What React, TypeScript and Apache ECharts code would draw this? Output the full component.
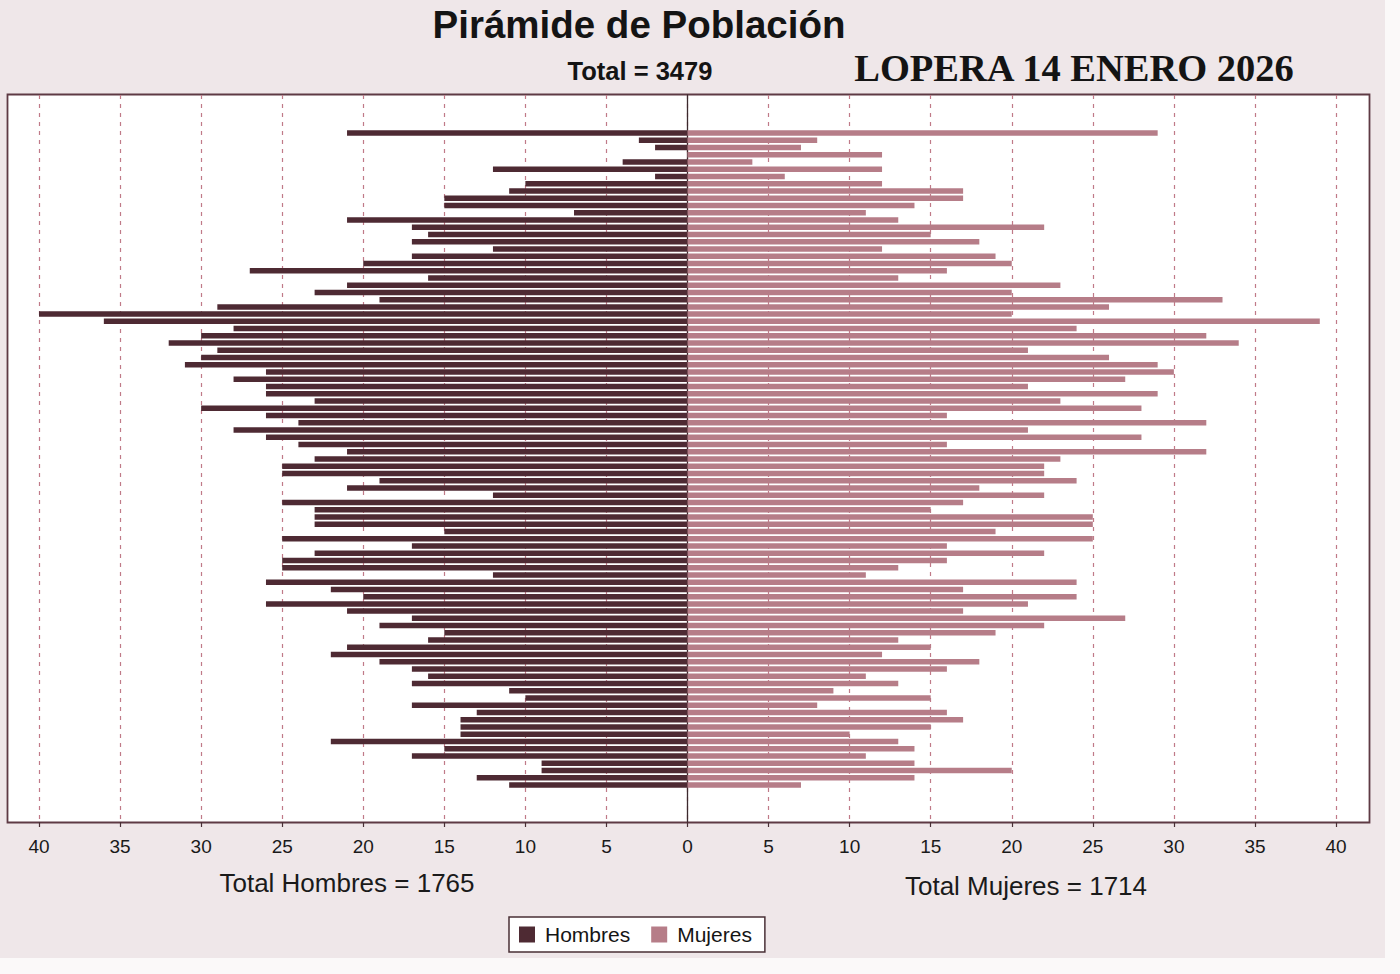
import React, { useEffect, useRef } from "react";
import * as echarts from "echarts";

// Age groups from the top of the pyramid (oldest) down to age 0
const edades: string[] = [
  "90", "89", "88", "87", "86", "85", "84", "83", "82", "81", "80",
  "79", "78", "77", "76", "75", "74", "73", "72", "71", "70",
  "69", "68", "67", "66", "65", "64", "63", "62", "61", "60",
  "59", "58", "57", "56", "55", "54", "53", "52", "51", "50",
  "49", "48", "47", "46", "45", "44", "43", "42", "41", "40",
  "39", "38", "37", "36", "35", "34", "33", "32", "31", "30",
  "29", "28", "27", "26", "25", "24", "23", "22", "21", "20",
  "19", "18", "17", "16", "15", "14", "13", "12", "11", "10",
  "9", "8", "7", "6", "5", "4", "3", "2", "1", "0",
];

// Men per age (same order as edades, top to bottom)
const hombres: number[] = [
  21, 3, 2, 0, 4, 12, 2, 10, 11, 15, 15, 7, 21, 17, 16,
  17, 12, 17, 20, 27, 16, 21, 23, 19, 29, 40, 36, 28, 30, 32,
  29, 30, 31, 26, 28, 26, 26, 23, 30, 26, 24, 28, 26, 24, 21,
  23, 25, 25, 19, 21, 12, 25, 23, 23, 23, 15, 25, 17, 23, 25,
  25, 12, 26, 22, 20, 26, 21, 17, 19, 15, 16, 21, 22, 19, 17, 16,
  17, 11, 10, 17, 13, 14, 14, 14, 22, 15, 17, 9, 9, 13, 11,
];

// Women per age (same order as edades, top to bottom)
const mujeres: number[] = [
  29, 8, 7, 12, 4, 12, 6, 12, 17, 17, 14, 11, 13, 22, 15,
  18, 12, 19, 20, 16, 13, 23, 20, 33, 26, 20, 39, 24, 32, 34,
  21, 26, 29, 30, 27, 21, 29, 23, 28, 16, 32, 21, 28, 16, 32,
  23, 22, 22, 24, 18, 22, 17, 15, 25, 25, 19, 25, 16, 22, 16,
  13, 11, 24, 17, 24, 21, 17, 27, 22, 19, 13, 15, 12, 18, 16, 11,
  13, 9, 15, 8, 16, 17, 15, 10, 13, 14, 11, 14, 20, 14, 7,
];

const titulo = "Pirámide de Población";
const lugar = "LOPERA 14 ENERO 2026";
const totalHombres = hombres.reduce((a, b) => a + b, 0);
const totalMujeres = mujeres.reduce((a, b) => a + b, 0);
const total = totalHombres + totalMujeres;

const COLOR_H = "#4e2a33";
const COLOR_M = "#b67d88";
const GRID_COLOR = "#c07a88";

export default function App() {
  const ref = useRef<HTMLDivElement>(null);

  useEffect(() => {
    document.body.style.margin = "0";
    if (!ref.current) return;
    const chart = echarts.init(ref.current, undefined, { renderer: "svg" });

    const axisLeft = 39;
    const axisRight = 1400 - 1336;

    chart.setOption({
      animation: false,
      backgroundColor: "#efe7e9",
      textStyle: { fontFamily: "Liberation Sans, Arial, sans-serif" },
      title: [
        {
          text: titulo,
          left: 634,
          top: 0,
          textAlign: "center",
          textStyle: { fontSize: 38.5, fontWeight: "bold", color: "#141414" },
        },
        {
          text: `Total = ${total}`,
          left: 635,
          top: 53,
          textAlign: "center",
          textStyle: { fontSize: 25.5, fontWeight: "bold", color: "#141414" },
        },
        {
          text: lugar,
          left: 1069,
          top: 43,
          textAlign: "center",
          textStyle: {
            fontSize: 38.5,
            fontWeight: "bold",
            color: "#141414",
            fontFamily: "Liberation Serif, Times New Roman, serif",
          },
        },
        {
          text: `Total Hombres = ${totalHombres}`,
          left: 342,
          top: 865,
          textAlign: "center",
          textStyle: { fontSize: 26, fontWeight: "normal", color: "#1a1a1a" },
        },
        {
          text: `Total Mujeres = ${totalMujeres}`,
          left: 1021,
          top: 868,
          textAlign: "center",
          textStyle: { fontSize: 26, fontWeight: "normal", color: "#1a1a1a" },
        },
      ],
      legend: {
        data: ["Hombres", "Mujeres"],
        left: 509,
        top: 917,
        orient: "horizontal",
        backgroundColor: "#ffffff",
        borderColor: "#4a3036",
        borderWidth: 1.5,
        borderRadius: 0,
        padding: [7, 13, 7, 10],
        itemGap: 21,
        itemWidth: 16,
        itemHeight: 16,
        icon: "rect",
        textStyle: { fontSize: 21, color: "#151515", padding: [0, 0, 0, 5] },
      },
      graphic: [
        {
          type: "rect",
          z: -1,
          shape: { x: 7.5, y: 94.5, width: 1362, height: 728 },
          style: { fill: "#ffffff", stroke: "#5e3a44", lineWidth: 1.8 },
        },
        {
          type: "rect",
          z: -1,
          shape: { x: 1385, y: 0, width: 15, height: 974 },
          style: { fill: "#fbf9f9" },
        },
        {
          type: "rect",
          z: -1,
          shape: { x: 0, y: 958, width: 1400, height: 16 },
          style: { fill: "#fbf9f9" },
        },
      ],
      grid: [
        { left: axisLeft, right: axisRight, top: 95, bottom: 974 - 822 },
        { left: axisLeft, right: axisRight, top: 129.4, height: 659.2 },
      ],
      xAxis: [
        {
          gridIndex: 0,
          type: "value",
          min: -40,
          max: 40,
          interval: 5,
          axisLine: { show: false },
          axisTick: {
            show: true,
            length: 5,
            lineStyle: { color: "#4a3036", width: 1.2 },
          },
          axisLabel: {
            formatter: (v: number) => String(Math.abs(v)),
            fontSize: 19,
            color: "#1a1a1a",
            margin: 15,
          },
          splitLine: {
            show: true,
            lineStyle: { color: GRID_COLOR, type: [4, 5], width: 1.2 },
          },
        },
        {
          gridIndex: 1,
          type: "value",
          min: -40,
          max: 40,
          show: false,
          splitLine: { show: false },
        },
      ],
      yAxis: [
        {
          gridIndex: 0,
          type: "value",
          min: 0,
          max: 1,
          axisLabel: { show: false },
          axisTick: { show: false },
          splitLine: { show: false },
          axisLine: {
            show: true,
            onZero: true,
            lineStyle: { color: "#3c2a2e", width: 1.3 },
          },
        },
        {
          gridIndex: 1,
          type: "category",
          data: edades,
          inverse: true,
          show: false,
        },
      ],
      series: [
        {
          name: "Hombres",
          type: "bar",
          xAxisIndex: 1,
          yAxisIndex: 1,
          data: hombres.map((v) => -v),
          barWidth: 5.5,
          barGap: "-100%",
          itemStyle: { color: COLOR_H },
        },
        {
          name: "Mujeres",
          type: "bar",
          xAxisIndex: 1,
          yAxisIndex: 1,
          data: mujeres,
          barWidth: 5.5,
          barGap: "-100%",
          itemStyle: { color: COLOR_M },
        },
      ],
    });

    return () => chart.dispose();
  }, []);

  return <div ref={ref} style={{ width: 1400, height: 974 }} />;
}
